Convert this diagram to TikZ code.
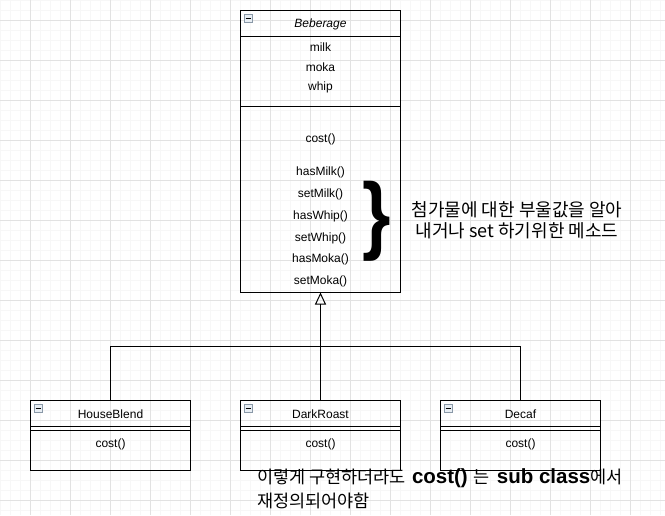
\documentclass[tikz,border=0pt]{standalone}
\usepackage{fontspec}
\setmainfont{Liberation Sans}
\newfontfamily\kr{Noto Sans CJK KR}
\usetikzlibrary{arrows.meta}
\definecolor{gridminor}{HTML}{F7F7F7}
\definecolor{gridmajor}{HTML}{E2E2E2}
\definecolor{iconfill}{HTML}{E8EEF4}
\definecolor{iconedge}{HTML}{8A99A8}
\tikzset{
  classbox/.style={draw=black, line width=1pt, fill=none, minimum width=160pt, inner sep=0pt},
  lbl/.style={font=\fontsize{12}{14}\selectfont, inner sep=0pt},
  conn/.style={draw=black, line width=1pt},
  icon/.style={draw=iconedge, fill=iconfill, line width=0.6pt, minimum width=8pt, minimum height=8pt, inner sep=0pt},
}
\newcommand{\boldlat}[1]{{\fontspec{Liberation Sans}\fontsize{20.5}{24}\selectfont\bfseries #1}}
\begin{document}
\begin{tikzpicture}[x=1pt,y=-1pt]
\useasboundingbox (0,0) rectangle (665,515);
\fill[white] (0,0) rectangle (665,515);
% grid
\foreach \gx in {0,10,...,660} \draw[gridminor, line width=0.8pt] (\gx,0) -- (\gx,515);
\foreach \gy in {0,10,...,510} \draw[gridminor, line width=0.8pt] (0,\gy) -- (665,\gy);
\foreach \gx in {30,70,...,650} \draw[gridmajor, line width=0.8pt] (\gx,0) -- (\gx,515);
\foreach \gy in {20,60,...,500} \draw[gridmajor, line width=0.8pt] (0,\gy) -- (665,\gy);

% Beberage class
\node[classbox, minimum height=282pt] (beb) at (320.5,151) {};
\draw[conn] (240.5,36) -- (400.5,36);
\draw[conn] (240.5,106) -- (400.5,106);
\node[icon] (bebicon) at (248,18.5) {};
\draw[black, line width=1pt] (245.5,18.5) -- (250.5,18.5);
\node[lbl, font=\fontsize{12}{14}\selectfont\itshape] (bebname) at (320.5,24) {Beberage};
\node[lbl] (a1) at (320.5,47) {milk};
\node[lbl] (a2) at (320.5,67) {moka};
\node[lbl] (a3) at (320.5,87) {whip};
\node[lbl] (m0) at (320.5,139) {cost()};
\node[lbl] (m1) at (320.5,172) {hasMilk()};
\node[lbl] (m2) at (320.5,194) {setMilk()};
\node[lbl] (m3) at (320.5,216) {hasWhip()};
\node[lbl] (m4) at (320.5,238) {setWhip()};
\node[lbl] (m5) at (320.5,259) {hasMoka()};
\node[lbl] (m6) at (320.5,281) {setMoka()};

% brace and note
\node[inner sep=0pt, xscale=0.85, font=\fontsize{86}{86}\selectfont\bfseries] (brace) at (376.5,221) {\}};
\node[inner sep=0pt, align=center, font=\kr\fontsize{18}{21}\selectfont] (note) at (517,220) {첨가물에 대한 부울값을 알아\\내거나 set 하기위한 메소드};

% subclasses
\foreach \nm/\cx/\lab in {hb/110.5/HouseBlend, dr/320.5/DarkRoast, dc/520.5/Decaf}{
  \node[classbox, minimum height=70pt] (\nm) at (\cx,435) {};
  \draw[conn] (\cx-80,426) -- (\cx+80,426);
  \draw[conn] (\cx-80,430) -- (\cx+80,430);
  \node[icon] (\nm icon) at (\cx-72.5,408.5) {};
  \draw[black, line width=1pt] (\cx-75,408.5) -- (\cx-70,408.5);
  \node[lbl] (\nm name) at (\cx,414) {\lab};
  \node[lbl] (\nm cost) at (\cx,444) {cost()};
}

% inheritance connectors
\coordinate (j) at (320.5,346);
\draw[conn] (hb.north) |- (j);
\draw[conn] (dc.north) |- (j);
\draw[conn, -{Triangle[open, length=12pt, width=11pt, line width=1pt]}] (dr.north) -- (beb.south);

% bottom note
\node[inner sep=0pt, anchor=north west, align=left, font=\kr\fontsize{17.5}{24}\selectfont] (bottom) at (257,468)
 {이렇게 구현하더라도\hspace{6pt}\boldlat{cost()}\hspace{6pt}는\hspace{7pt}\boldlat{sub class}에서\\재정의되어야함};
\end{tikzpicture}
\end{document}
